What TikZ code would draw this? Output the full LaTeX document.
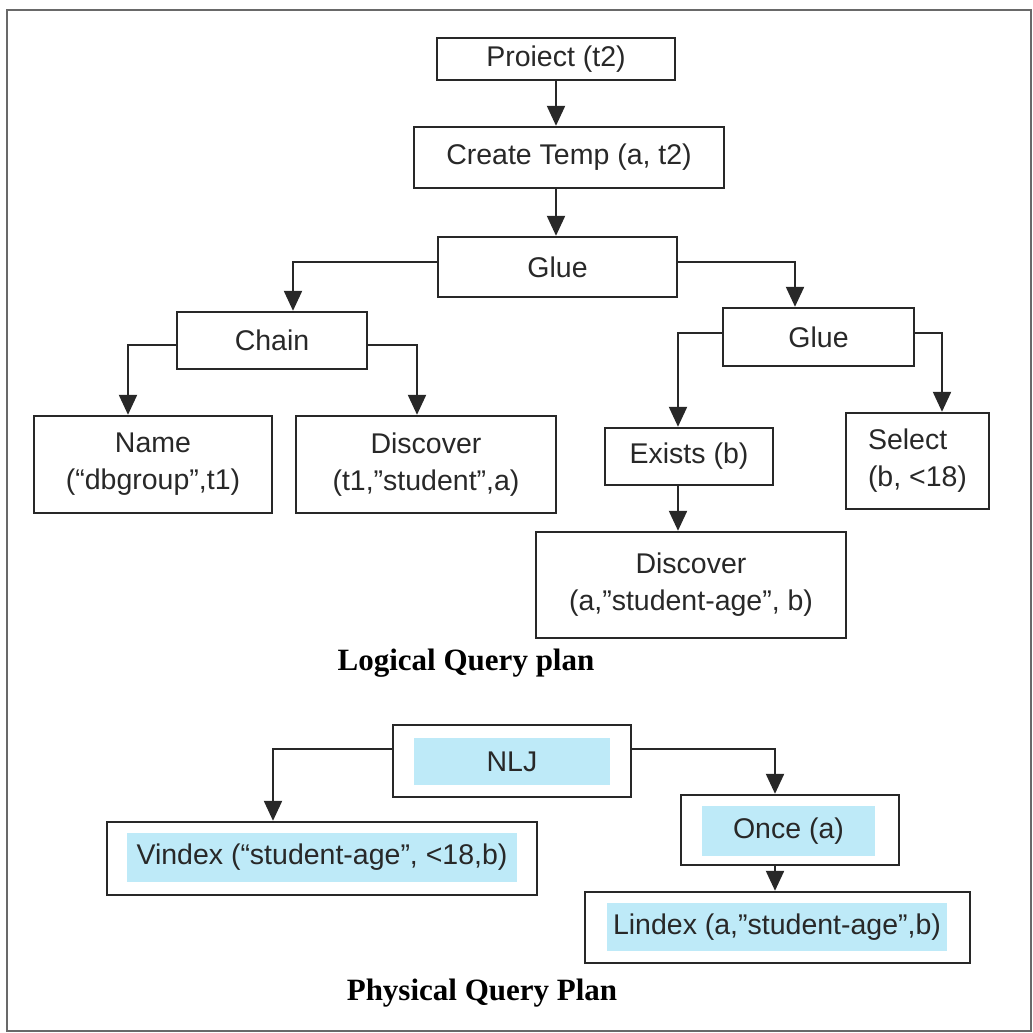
\documentclass[tikz,border=0pt]{standalone}
\usepackage{fontspec}
\setmainfont{Liberation Sans}
\newfontfamily\capfont{Liberation Serif}
\usetikzlibrary{arrows.meta}
\definecolor{ink}{RGB}{40,40,40}
\definecolor{hilite}{RGB}{190,234,248}
\definecolor{framegray}{RGB}{105,105,105}

\begin{document}
\begin{tikzpicture}[x=1pt,y=-1pt,
  box/.style={draw=ink, line width=2.4pt, inner sep=0pt, text=ink,
    font=\fontsize{28.5}{37}\selectfont, align=center},
  hl/.style={fill=hilite, inner sep=0pt, text=ink,
    font=\fontsize{28.5}{37}\selectfont},
  link/.style={draw=ink, line width=2.2pt, -{Triangle[width=18pt,length=20pt]}},
  caption/.style={font=\capfont\bfseries\fontsize{31}{36}\selectfont, text=black}]
\useasboundingbox (0,0) rectangle (1033,1033);
\draw[framegray, line width=2pt] (7,10) rectangle (1031,1031);

% logical query plan
\node[box, minimum width=238, minimum height=42] (proj) at (556,59) {Proiect (t2)};
\node[box, minimum width=310, minimum height=61] (ctemp) at (569,157.5) {Create Temp (a, t2)};
\node[box, minimum width=239, minimum height=60] (glue) at (557.5,267) {Glue};
\node[box, minimum width=190, minimum height=57] (chain) at (272,340.5) {Chain};
\node[box, minimum width=191, minimum height=58] (glueb) at (818.5,337) {Glue};
\node[box, minimum width=238, minimum height=97] (name) at (153,464.5) {Name\\(“dbgroup”,t1)};
\node[box, minimum width=260, minimum height=97] (discA) at (426,464.5) {Discover\\(t1,”student”,a)};
\node[box, minimum width=168, minimum height=57] (exists) at (689,456.5) {Exists (b)};
\node[box, minimum width=143, minimum height=96, align=left] (select) at (917.5,461) {Select\\(b, <18)};
\node[box, minimum width=310, minimum height=106] (discB) at (691,585) {Discover\\(a,”student-age”, b)};
\node[caption] (logcap) at (466,663) {Logical Query plan};

\draw[link] (proj.south) -- ([xshift=-13pt]ctemp.north);
\draw[link] ([xshift=-13pt]ctemp.south) -- ([xshift=-1.5pt]glue.north);
\draw[link] ([yshift=5pt]glue.west) -| ([xshift=21pt]chain.north);
\draw[link] ([yshift=5pt]glue.east) -| ([xshift=-23.5pt]glueb.north);
\draw[link] ([yshift=-4.5pt]chain.west) -| ([xshift=-25pt]name.north);
\draw[link] ([yshift=-4.5pt]chain.east) -| ([xshift=-9pt]discA.north);
\draw[link] ([yshift=4pt]glueb.west) -| ([xshift=-11pt]exists.north);
\draw[link] ([yshift=4pt]glueb.east) -| ([xshift=24.5pt]select.north);
\draw[link] ([xshift=-11pt]exists.south) -- ([xshift=-13pt]discB.north);

% physical query plan
\node[box, minimum width=238, minimum height=72] (nlj) at (512,761) {};
\node[hl, minimum width=196, minimum height=47] (nljtext) at (512,761.5) {NLJ};
\node[box, minimum width=430, minimum height=73] (vindex) at (322,858.5) {};
\node[hl, minimum width=390, minimum height=49] (vindextext) at (322,857.5) {Vindex (“student-age”, <18,b)};
\node[box, minimum width=218, minimum height=70] (once) at (790,830) {};
\node[hl, minimum width=173, minimum height=50] (oncetext) at (788.5,831) {Once (a)};
\node[box, minimum width=385, minimum height=71] (lindex) at (777.5,927.5) {};
\node[hl, minimum width=340, minimum height=48] (lindextext) at (777,927) {Lindex (a,”student-age”,b)};
\node[caption] (physcap) at (482,993) {Physical Query Plan};

\draw[link] ([yshift=12pt]nlj.west) -| ([xshift=-49pt]vindex.north);
\draw[link] ([yshift=12pt]nlj.east) -| ([xshift=-15pt]once.north);
\draw[link] ([xshift=-15pt]once.south) -- ([xshift=-2.5pt]lindex.north);
\end{tikzpicture}
\end{document}
